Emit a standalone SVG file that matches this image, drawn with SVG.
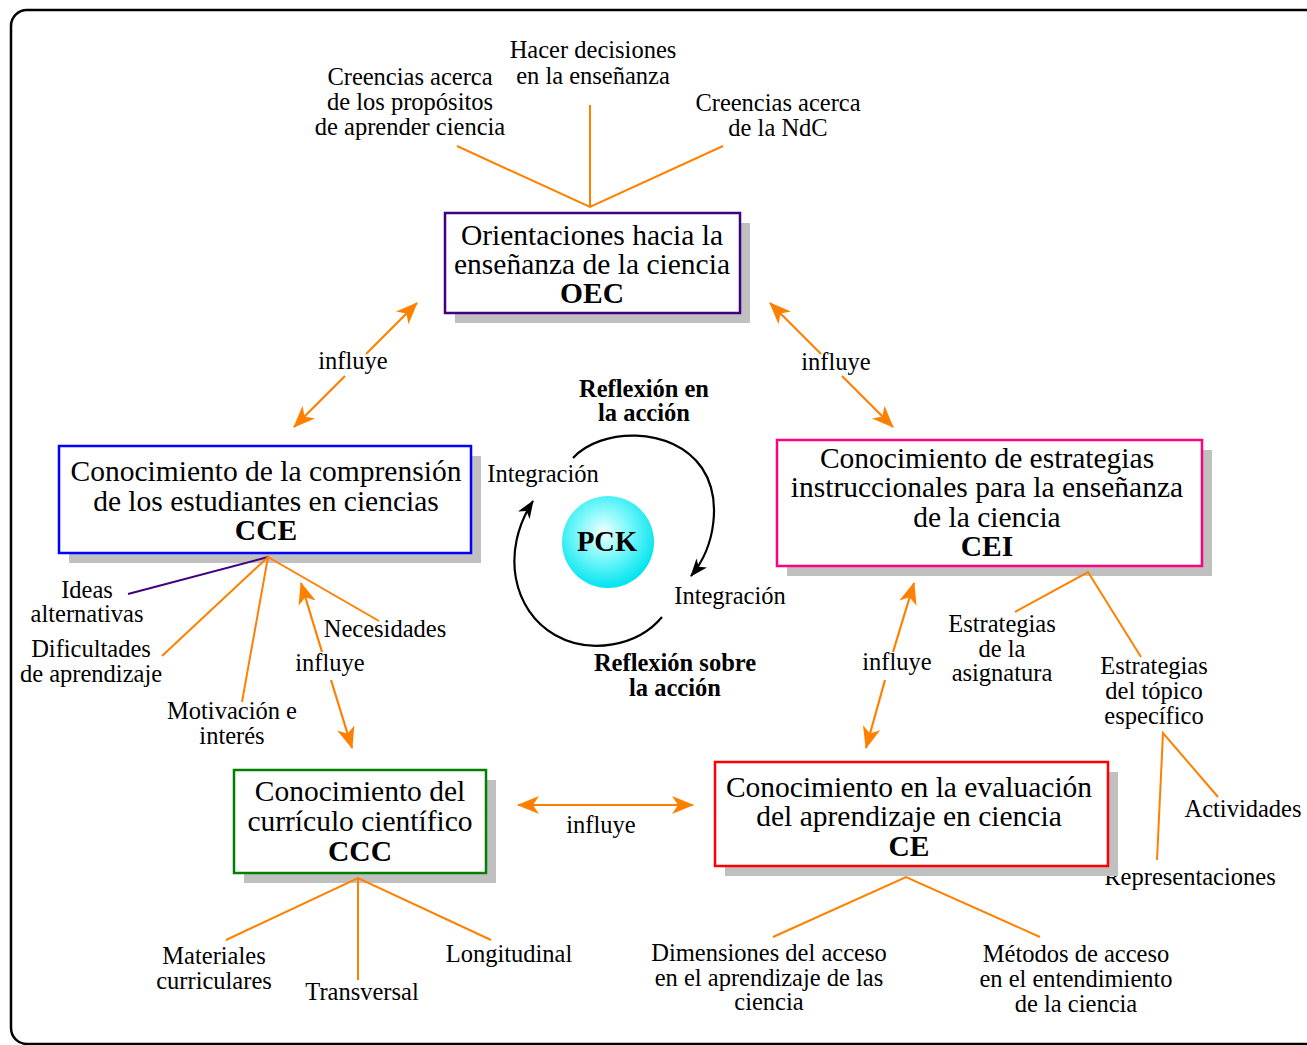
<svg xmlns="http://www.w3.org/2000/svg" width="1307" height="1045" viewBox="0 0 1307 1045">
  <style>
    text { font-family: "Liberation Serif", "Times New Roman", serif; fill: #000; text-anchor: middle; }
    .box { font-size: 29.5px; }
    .lbl { font-size: 24.5px; }
    .b { font-weight: bold; }
    .shadow { fill: #c0c0c0; }
    .frame { fill: #fff; stroke-width: 2.5; }
    .fan { stroke: #ff8000; stroke-width: 2; fill: none; }
    .arr { stroke: #ff8000; stroke-width: 2.2; fill: none; marker-end: url(#orangeHead); }
    .cyc { stroke: #000; stroke-width: 2.2; fill: none; marker-end: url(#blackHead); }
  </style>
  <defs>
    <marker id="orangeHead" viewBox="0 0 22 18" refX="21" refY="9" markerWidth="22" markerHeight="18" markerUnits="userSpaceOnUse" orient="auto">
      <path d="M0,0 L22,9 L0,18 L6,9 z" fill="#ff8000"/>
    </marker>
    <marker id="blackHead" viewBox="0 0 18 14" refX="17" refY="7" markerWidth="18" markerHeight="14" markerUnits="userSpaceOnUse" orient="auto">
      <path d="M0,0 L18,7 L0,14 L5,7 z" fill="#000"/>
    </marker>
    <radialGradient id="pckFill" cx="0.45" cy="0.4" r="0.6">
      <stop offset="0" stop-color="#f4ffff"/>
      <stop offset="0.45" stop-color="#7ff8fb"/>
      <stop offset="1" stop-color="#00e4ee"/>
    </radialGradient>
  </defs>

  <!-- outer frame -->
  <rect x="11" y="10" width="1310" height="1034" rx="16" ry="16" fill="#fff" stroke="#000" stroke-width="2.5"/>

  <!-- OEC -->
  <g id="oec">
    <rect class="shadow" x="455" y="223" width="295" height="100"/>
    <rect class="frame" x="445" y="213" width="295" height="100" stroke="#400080"/>
    <text class="box" x="592" y="245">Orientaciones hacia la</text>
    <text class="box" x="592" y="274">enseñanza de la ciencia</text>
    <text class="box b" x="592" y="303">OEC</text>
  </g>
  <g id="oec-propositos">
    <text class="lbl" x="410" y="85">Creencias acerca</text>
    <text class="lbl" x="410" y="110">de los propósitos</text>
    <text class="lbl" x="410" y="135">de aprender ciencia</text>
  </g>
  <g id="oec-decisiones">
    <text class="lbl" x="593" y="58">Hacer decisiones</text>
    <text class="lbl" x="593" y="84">en la enseñanza</text>
  </g>
  <g id="oec-ndc">
    <text class="lbl" x="778" y="111">Creencias acerca</text>
    <text class="lbl" x="778" y="136">de la NdC</text>
  </g>

  <!-- CCE -->
  <g id="cce">
    <rect class="shadow" x="69" y="456" width="412" height="107"/>
    <rect class="frame" x="59" y="446" width="412" height="107" stroke="#0000ff"/>
    <text class="box" x="266" y="481">Conocimiento de la comprensión</text>
    <text class="box" x="266" y="511">de los estudiantes en ciencias</text>
    <text class="box b" x="266" y="540">CCE</text>
  </g>
  <g id="cce-ideas">
    <text class="lbl" x="87" y="598">Ideas</text>
    <text class="lbl" x="87" y="622">alternativas</text>
  </g>
  <g id="cce-dificultades">
    <text class="lbl" x="91" y="657">Dificultades</text>
    <text class="lbl" x="91" y="682">de aprendizaje</text>
  </g>
  <g id="cce-motivacion">
    <text class="lbl" x="232" y="719">Motivación e</text>
    <text class="lbl" x="232" y="744">interés</text>
  </g>
  <g id="cce-necesidades">
    <text class="lbl" x="385" y="637">Necesidades</text>
  </g>

  <!-- CEI -->
  <g id="cei">
    <rect class="shadow" x="787" y="450" width="425" height="126"/>
    <rect class="frame" x="777" y="440" width="425" height="126" stroke="#ff0080"/>
    <text class="box" x="987" y="468">Conocimiento de estrategias</text>
    <text class="box" x="987" y="497">instruccionales para la enseñanza</text>
    <text class="box" x="987" y="527">de la ciencia</text>
    <text class="box b" x="987" y="556">CEI</text>
  </g>
  <g id="cei-asignatura">
    <text class="lbl" x="1002" y="632">Estrategias</text>
    <text class="lbl" x="1002" y="657">de la</text>
    <text class="lbl" x="1002" y="681">asignatura</text>
  </g>
  <g id="cei-topico">
    <text class="lbl" x="1154" y="674">Estrategias</text>
    <text class="lbl" x="1154" y="699">del tópico</text>
    <text class="lbl" x="1154" y="724">específico</text>
  </g>
  <g id="cei-actividades">
    <text class="lbl" x="1243" y="817">Actividades</text>
  </g>
  <g id="cei-representaciones">
    <text class="lbl" x="1190" y="885">Representaciones</text>
  </g>

  <!-- CCC -->
  <g id="ccc">
    <rect class="shadow" x="244" y="780" width="252" height="103"/>
    <rect class="frame" x="234" y="770" width="252" height="103" stroke="#008000"/>
    <text class="box" x="360" y="801">Conocimiento del</text>
    <text class="box" x="360" y="831">currículo científico</text>
    <text class="box b" x="360" y="861">CCC</text>
  </g>
  <g id="ccc-materiales">
    <text class="lbl" x="214" y="964">Materiales</text>
    <text class="lbl" x="214" y="989">curriculares</text>
  </g>
  <g id="ccc-transversal">
    <text class="lbl" x="362" y="1000">Transversal</text>
  </g>
  <g id="ccc-longitudinal">
    <text class="lbl" x="509" y="962">Longitudinal</text>
  </g>

  <!-- CE -->
  <g id="ce">
    <rect class="shadow" x="725" y="772" width="393" height="104"/>
    <rect class="frame" x="715" y="762" width="393" height="104" stroke="#ff0000"/>
    <text class="box" x="909" y="797">Conocimiento en la evaluación</text>
    <text class="box" x="909" y="826">del aprendizaje en ciencia</text>
    <text class="box b" x="909" y="856">CE</text>
  </g>
  <g id="ce-dimensiones">
    <text class="lbl" x="769" y="961">Dimensiones del acceso</text>
    <text class="lbl" x="769" y="986">en el aprendizaje de las</text>
    <text class="lbl" x="769" y="1010">ciencia</text>
  </g>
  <g id="ce-metodos">
    <text class="lbl" x="1076" y="962">Métodos de acceso</text>
    <text class="lbl" x="1076" y="987">en el entendimiento</text>
    <text class="lbl" x="1076" y="1012">de la ciencia</text>
  </g>

  <!-- PCK core and reflection labels -->
  <g id="pck">
    <circle cx="608" cy="542" r="46" fill="url(#pckFill)"/>
    <text class="b" x="607" y="551" font-size="28.5">PCK</text>
  </g>
  <g id="integracion-1">
    <text class="lbl" x="543" y="482">Integración</text>
  </g>
  <g id="integracion-2">
    <text class="lbl" x="730" y="604">Integración</text>
  </g>
  <g id="reflexion-en">
    <text class="lbl b" x="644" y="397">Reflexión en</text>
    <text class="lbl b" x="644" y="421">la acción</text>
  </g>
  <g id="reflexion-sobre">
    <text class="lbl b" x="675" y="671">Reflexión sobre</text>
    <text class="lbl b" x="675" y="696">la acción</text>
  </g>

  <!-- connectors -->
  <g id="connectors">
    <!-- OEC fan -->
    <path class="fan" d="M457,146 L590,207 L723,146 M590,105 L590,207"/>
    <!-- CCE fan -->
    <path d="M128,594 L268,557" stroke="#400080" stroke-width="2" fill="none"/>
    <path class="fan" d="M162,656 L268,557 L242,702 M268,557 L379,621"/>
    <!-- CEI fan -->
    <path class="fan" d="M1015,612 L1088,572 L1141,657"/>
    <path class="fan" d="M1157,860 L1163,733 L1218,797"/>
    <!-- CE fan -->
    <path class="fan" d="M773,937 L906,877 L1040,937"/>
    <!-- CCC fan -->
    <path class="fan" d="M226,940 L358,878 L491,940 M358,878 L358,980"/>

    <!-- OEC <-> CCE -->
    <path class="arr" d="M366,354 L417,303"/>
    <path class="arr" d="M345,376 L294,427"/>
    <!-- OEC <-> CEI -->
    <path class="arr" d="M821,354 L770,303"/>
    <path class="arr" d="M842,376 L893,427"/>
    <!-- CCE <-> CCC -->
    <path class="arr" d="M322,652 L301,583"/>
    <path class="arr" d="M331,680 L352,748"/>
    <!-- CEI <-> CE -->
    <path class="arr" d="M893,652 L914,583"/>
    <path class="arr" d="M885,680 L866,748"/>
    <!-- CCC <-> CE -->
    <path class="arr" d="M606,805 L518,805"/>
    <path class="arr" d="M606,805 L693,805"/>

    <!-- reflection cycle around PCK -->
    <path class="cyc" d="M573,458 C600,428 672,425 702,468 C722,498 716,546 691,576"/>
    <path class="cyc" d="M662,617 C638,646 590,655 555,635 C513,611 500,552 533,501"/>

    <text class="lbl" x="353" y="369">influye</text>
    <text class="lbl" x="836" y="370">influye</text>
    <text class="lbl" x="330" y="671">influye</text>
    <text class="lbl" x="897" y="670">influye</text>
    <text class="lbl" x="601" y="833">influye</text>
  </g>
</svg>
